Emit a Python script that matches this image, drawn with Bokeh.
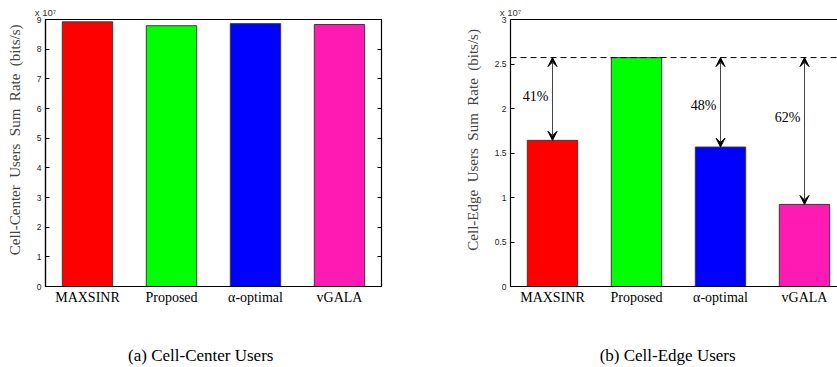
from bokeh.embed import file_html
from bokeh.layouts import row
from bokeh.models import (Arrow, ColumnDataSource, FixedTicker, Label,
                          LinearAxis, Range1d, Span, VeeHead)
from bokeh.plotting import figure
from bokeh.resources import INLINE

# ---------------------------------------------------------------- data
schemes = ["MAXSINR", "Proposed", "\u03b1-optimal", "vGALA"]
positions = [1, 2, 3, 4]
# sum rates in units of 10^7 bits/s
center_rate = [8.92, 8.79, 8.86, 8.83]
edge_rate = [1.642, 2.572, 1.567, 0.922]
bar_colors = ["#ff0000", "#00ff00", "#0000ff", "#ff1ab3"]

# loss of each scheme w.r.t. the proposed one (cell-edge users)
gap_schemes = [1, 3, 4]
gap_labels = ["41%", "48%", "62%"]
gap_label_y = [2.135, 2.034, 1.902]

center_ticks = [0, 1, 2, 3, 4, 5, 6, 7, 8, 9]
edge_ticks = [0, 0.5, 1, 1.5, 2, 2.5, 3]

SERIF = "Liberation Serif"
SANS = "Liberation Sans"
NBSP = "\u00a0"

# ---------------------------------------------------------------- layout
W1, W2, H = 418, 419, 367
TOP, BOTTOM = 19, 81
PX_PER_UNIT = 84.0
BAR_WIDTH = 0.6


def wide_words(text):
    """Axis label with generous word spacing, nudged towards the top."""
    return NBSP * 7 + text.replace(" ", " " + NBSP)


def make_panel(width, left_border, right_border, y_max, ticks, heights,
               ylabel, caption, caption_pad, full_box):
    frame_w = width - left_border - right_border
    x_hi = 0.5 + frame_w / PX_PER_UNIT
    p = figure(width=width, height=H, output_backend="svg",
               toolbar_location=None, x_range=Range1d(0.5, x_hi),
               y_range=Range1d(0, y_max), x_axis_location=None,
               y_axis_location=None, min_border_left=left_border,
               min_border_right=right_border, min_border_top=TOP,
               min_border_bottom=BOTTOM, background_fill_color="white",
               border_fill_color="white")
    p.grid.visible = False
    p.outline_line_color = "black" if full_box else None
    p.outline_line_width = 1.2

    src = ColumnDataSource(dict(x=positions, top=heights, color=bar_colors))
    p.vbar(x="x", top="top", bottom=0, width=BAR_WIDTH, source=src,
           fill_color="color", line_color="#3a3a3a", line_width=1)

    yax = LinearAxis(ticker=FixedTicker(ticks=ticks), axis_label=wide_words(ylabel))
    yax.major_tick_in = 4
    yax.major_tick_out = 0
    yax.minor_tick_line_color = None
    yax.major_label_standoff = 4
    yax.major_label_text_font = SANS
    yax.major_label_text_font_size = "8.5px"
    yax.major_label_text_color = "#222222"
    yax.axis_label_text_font = SERIF
    yax.axis_label_text_font_style = "normal"
    yax.axis_label_text_font_size = "15px"
    yax.axis_label_standoff = 11
    yax.axis_line_width = 1.2
    if y_max < 5:
        yax.major_label_overrides = {t: ("%g" % t) for t in ticks}
    p.add_layout(yax, "left")

    # categories below the bars; the sub-figure caption sits under them
    xax = LinearAxis(ticker=FixedTicker(ticks=positions),
                     major_label_overrides={i: s for i, s in zip(positions, schemes)},
                     axis_label=caption + NBSP * caption_pad)
    xax.major_tick_in = 0
    xax.major_tick_out = 0
    xax.minor_tick_line_color = None
    xax.major_label_standoff = 3
    xax.major_label_text_font = SERIF
    xax.major_label_text_font_size = "14px"
    xax.major_label_text_color = "black"
    xax.axis_label_text_font = SERIF
    xax.axis_label_text_font_style = "normal"
    xax.axis_label_text_font_size = "17px"
    xax.axis_label_text_color = "black"
    xax.axis_label_standoff = 38
    xax.axis_line_width = 1.2
    p.add_layout(xax, "below")

    if full_box:
        # mirrored inward ticks on the right edge of the box
        rax = LinearAxis(ticker=FixedTicker(ticks=ticks),
                         major_label_overrides={t: "" for t in ticks})
        rax.major_tick_in = 4
        rax.major_tick_out = 0
        rax.minor_tick_line_color = None
        rax.major_label_standoff = 0
        rax.axis_line_color = None
        p.add_layout(rax, "right")

    # top edge of the box, carrying the exponent of the y axis
    tax = LinearAxis(ticker=FixedTicker(ticks=[]), axis_label="x 10\u2077")
    tax.major_tick_in = 0
    tax.major_tick_out = 0
    tax.minor_tick_line_color = None
    tax.major_label_standoff = 0
    tax.axis_line_width = 1.2
    tax.axis_line_color = None if full_box else "black"
    tax.axis_label_text_font = SANS
    tax.axis_label_text_font_size = "9.5px"
    tax.axis_label_text_font_style = "normal"
    tax.axis_label_text_color = "#333333"
    tax.axis_label_standoff = 2
    tax.axis_label_align = "start"
    p.add_layout(tax, "above")
    return p


p1 = make_panel(W1, 45, 37, 9, center_ticks, center_rate,
                "Cell-Center Users Sum Rate (bits/s)",
                "(a) Cell-Center Users", 6, True)
p2 = make_panel(W2, 92, 0, 3, edge_ticks, edge_rate,
                "Cell-Edge Users Sum Rate (bits/s)",
                "(b) Cell-Edge Users", 3, False)

# reference level of the proposed scheme and the gaps to it
p2.add_layout(Span(location=edge_rate[1], dimension="width", line_color="black",
                   line_width=1, line_dash="6 4"))
gap_src = ColumnDataSource(dict(
    x=gap_schemes,
    y0=[edge_rate[i - 1] for i in gap_schemes],
    y1=[edge_rate[1]] * len(gap_schemes)))
p2.add_layout(Arrow(x_start="x", y_start="y0", x_end="x", y_end="y1",
                    source=gap_src, line_color="#444444", line_width=1,
                    start=VeeHead(size=9, fill_color="black", line_color="black", line_width=1),
                    end=VeeHead(size=9, fill_color="black", line_color="black", line_width=1)))
for xs, lab, ly in zip(gap_schemes, gap_labels, gap_label_y):
    p2.add_layout(Label(x=xs, y=ly, text=lab, x_offset=-4, text_align="right",
                        text_baseline="middle", text_font=SERIF,
                        text_font_size="14px", text_color="black"))

layout = row(p1, p2, spacing=0)
open("out.html", "w").write(file_html(layout, INLINE))
